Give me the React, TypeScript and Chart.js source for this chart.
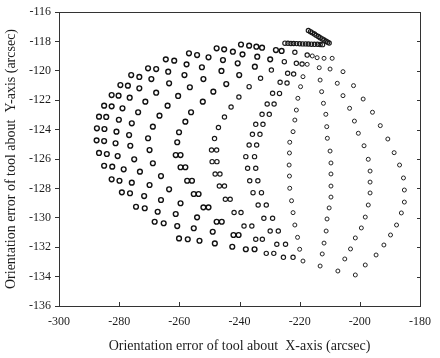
import React, { useEffect, useRef } from "react";
import { Chart, registerables } from "chart.js";

Chart.register(...registerables);

const xTickValues = [-300, -280, -260, -240, -220, -200, -180];
const yTickValues = [-136, -134, -132, -130, -128, -126, -124, -122, -120, -118, -116];
const xTitle = "Orientation error of tool about  X-axis (arcsec)";
const yTitle = "Orientation error of tool about  Y-axis (arcsec)";

const A_X = [-239.5, -247.6, -256.8, -264.5, -270.4, -276.0, -279.6, -282.5, -285.0, -286.7, -287.4, -287.5, -286.7, -285.0, -282.5, -279.1, -274.4, -268.2, -260.1];
const A_Y = [-118.21, -118.47, -118.81, -119.22, -119.83, -120.29, -120.97, -121.65, -122.37, -123.12, -123.91, -124.73, -125.59, -126.46, -127.38, -128.27, -129.25, -130.27, -131.4];

const A2_X = [-236.8, -245.1, -254.1, -261.7, -267.7, -273.3, -277.1, -280.2, -282.5, -284.3, -284.9, -285.0, -284.1, -282.3, -279.9, -276.4, -271.5, -265.2, -257.2];
const A2_Y = [-118.29, -118.54, -118.93, -119.31, -119.88, -120.42, -121.01, -121.69, -122.42, -123.14, -123.96, -124.78, -125.66, -126.52, -127.48, -128.33, -129.35, -130.37, -131.46];

const B_X = [-234.4, -242.2, -250.3, -257.6, -263.7, -269.3, -273.3, -276.5, -278.9, -280.1, -280.9, -281.2, -280.5, -278.5, -275.8, -271.7, -267.2, -260.7, -253.3];
const B_Y = [-118.36, -118.7, -119.08, -119.56, -120.06, -120.56, -121.19, -121.83, -122.55, -123.33, -124.14, -124.93, -125.8, -126.7, -127.61, -128.52, -129.59, -130.56, -131.56];

const C_X = [-232.5, -239.0, -245.5, -252.5, -258.3, -263.4, -267.7, -271.3, -273.7, -275.8, -276.7, -276.3, -275.0, -273.1, -269.9, -266.1, -261.2, -255.2, -248.2];
const C_Y = [-118.43, -118.88, -119.27, -119.76, -120.29, -120.85, -121.49, -122.1, -122.82, -123.57, -124.37, -125.1, -126.02, -126.86, -127.77, -128.79, -129.74, -130.71, -131.74];

const D_X = [-227.9, -234.1, -240.6, -246.0, -252.0, -256.5, -260.4, -263.9, -266.6, -268.8, -270.4, -269.9, -268.8, -266.1, -263.4, -259.6, -254.1, -248.9, -242.4];
const D_Y = [-118.59, -119.04, -119.49, -120.01, -120.56, -121.12, -121.71, -122.37, -123.05, -123.8, -124.59, -125.39, -126.29, -127.16, -128.06, -129.01, -129.97, -130.95, -131.97];

const E_X = [-226.0, -229.8, -234.9, -240.1, -244.4, -248.7, -252.2, -256.1, -258.0, -260.1, -260.7, -261.2, -259.6, -257.4, -255.2, -252.0, -247.6, -242.0, -237.9];
const E_Y = [-118.65, -119.22, -119.72, -120.29, -120.9, -121.42, -122.1, -122.82, -123.46, -124.18, -124.86, -125.73, -126.56, -127.48, -128.38, -129.29, -130.27, -131.17, -132.14];

const E2_X = [-259.6, -258.0, -255.8, -253.6, -250.3, -245.9, -240.3, -235.0];
const E2_Y = [-125.73, -126.56, -127.48, -128.38, -129.29, -130.27, -131.17, -132.14];

const F_X = [-221.6, -225.1, -229.4, -233.0, -236.8, -240.2, -242.8, -245.0, -247.0, -248.3, -249.3, -249.1, -248.1, -246.7, -244.7, -241.8, -238.5, -234.6, -231.1];
const F_Y = [-118.74, -119.38, -119.95, -120.51, -121.08, -121.78, -122.46, -123.14, -123.86, -124.61, -125.39, -126.18, -127.02, -127.84, -128.74, -129.64, -130.56, -131.46, -132.42];

const F2_X = [-247.6, -247.5, -246.5, -245.0, -243.1, -239.5, -235.9, -232.4, -228.6];
const F2_Y = [-125.39, -126.18, -127.02, -127.84, -128.74, -129.64, -130.56, -131.46, -132.42];

const G_X = [-217.5, -221.1, -224.0, -226.5, -229.0, -230.8, -232.5, -234.6, -235.7, -236.8, -237.9, -237.3, -236.6, -235.5, -233.8, -231.9, -229.8, -227.6, -225.4];
const G_Y = [-118.93, -119.49, -120.17, -120.78, -121.53, -122.26, -122.96, -123.64, -124.32, -125.05, -125.84, -126.63, -127.48, -128.29, -129.13, -130.03, -130.9, -131.8, -132.69];

const G2_X = [-219.2, -222.0, -224.2, -226.7, -228.5, -230.1, -232.2, -233.2, -234.3, -235.0, -234.6, -233.9, -232.7, -231.1, -229.0, -227.1, -224.7, -222.2];
const G2_Y = [-119.54, -120.22, -120.83, -121.54, -122.26, -122.96, -123.64, -124.32, -125.05, -125.84, -126.63, -127.48, -128.29, -129.13, -130.03, -130.9, -131.8, -132.69];

const H_X = [-215.8, -217.5, -218.9, -219.7, -220.6, -221.1, -221.6, -222.2, -223.3, -223.4, -223.5, -223.4, -223.3, -222.7, -222.2, -221.6, -220.7, -220.0, -218.9];
const H_Y = [-118.99, -119.56, -120.4, -121.08, -121.87, -122.67, -123.35, -124.14, -124.86, -125.59, -126.41, -127.16, -127.99, -128.84, -129.65, -130.49, -131.33, -132.14, -132.94];

const I_X = [-214.2, -213.5, -213.2, -212.7, -212.1, -211.3, -211.0, -210.8, -209.9, -209.6, -209.6, -209.6, -209.6, -210.2, -210.9, -211.2, -211.9, -212.5, -213.2];
const I_Y = [-119.11, -119.79, -120.63, -121.42, -122.21, -122.96, -123.8, -124.59, -125.46, -126.27, -127.02, -127.84, -128.59, -129.33, -130.08, -130.9, -131.72, -132.46, -133.28];

const J_X = [-211.9, -209.9, -207.5, -205.6, -203.4, -201.8, -200.5, -198.6, -197.2, -196.6, -196.6, -196.6, -197.2, -198.2, -199.5, -201.5, -203.1, -205.0, -207.3];
const J_Y = [-119.15, -119.88, -120.85, -121.69, -122.55, -123.42, -124.25, -125.1, -126.02, -126.82, -127.57, -128.31, -129.13, -129.95, -130.69, -131.37, -132.12, -132.8, -133.62];

const K_X = [-209.2, -205.6, -202.1, -198.9, -195.8, -193.2, -190.7, -188.6, -186.8, -185.5, -185.2, -185.2, -186.2, -187.8, -189.8, -192.0, -194.6, -198.2, -201.5];
const K_Y = [-119.15, -120.06, -121.01, -121.92, -122.82, -123.73, -124.64, -125.57, -126.41, -127.29, -128.11, -128.93, -129.67, -130.49, -131.17, -131.85, -132.53, -133.21, -133.89];

const ROW_X = [-224.9, -223.9, -222.9, -222.0, -221.0, -220.0, -219.0, -218.0, -217.1, -216.1, -215.1, -214.1, -213.2, -212.4];
const ROW_Y = [-118.12, -118.13, -118.14, -118.14, -118.15, -118.16, -118.17, -118.17, -118.18, -118.19, -118.2, -118.2, -118.21, -118.22];

const DIAG_X = [-217.1, -216.4, -215.8, -215.1, -214.5, -213.8, -213.2, -212.5, -211.9, -211.2, -210.7, -210.2];
const DIAG_Y = [-117.26, -117.34, -117.42, -117.5, -117.59, -117.67, -117.75, -117.83, -117.91, -117.99, -118.05, -118.11];

const heavy = [[A_X, A_Y], [A2_X, A2_Y], [B_X, B_Y], [C_X, C_Y], [D_X, D_Y], [E_X, E_Y], [E2_X, E2_Y]];
const medium = [[F_X, F_Y], [F2_X, F2_Y], [G_X, G_Y], [G2_X, G2_Y], [ROW_X, ROW_Y], [DIAG_X, DIAG_Y]];
const light = [[H_X, H_Y], [I_X, I_Y], [J_X, J_Y], [K_X, K_Y]];

const toPoints = (xs: number[], ys: number[]) => xs.map((x, i) => ({ x, y: ys[i] }));

const FONT = "'Liberation Serif', 'DejaVu Serif', serif";
const INK = "#1c1c1c";

const framePlugin = {
  id: "frame",
  afterDraw(chart: any) {
    const { ctx, chartArea, scales } = chart;
    const { left, right, top, bottom } = chartArea;
    ctx.save();
    ctx.strokeStyle = "#333";
    ctx.lineWidth = 1;
    ctx.strokeRect(Math.round(left) + 0.5, Math.round(top) + 0.5, Math.round(right - left), Math.round(bottom - top));
    ctx.beginPath();
    for (const v of xTickValues) {
      const px = Math.round(scales.x.getPixelForValue(v)) + 0.5;
      ctx.moveTo(px, bottom);
      ctx.lineTo(px, bottom - 4);
    }
    for (const v of yTickValues) {
      const py = Math.round(scales.y.getPixelForValue(v)) + 0.5;
      ctx.moveTo(right, py);
      ctx.lineTo(right - 3, py);
    }
    ctx.stroke();
    ctx.restore();
  },
};

export default function App() {
  const ref = useRef<HTMLCanvasElement | null>(null);
  useEffect(() => {
    if (!ref.current) return;
    const mk = (groups: any[], r: number, bw: number, color: string) =>
      groups.map(([xs, ys]) => ({
        data: toPoints(xs, ys),
        showLine: false,
        pointStyle: "circle",
        pointRadius: r,
        pointBorderWidth: bw,
        pointBorderColor: color,
        pointBackgroundColor: "rgba(255,255,255,0)",
      }));
    const chart = new Chart(ref.current, {
      type: "scatter",
      data: {
        datasets: [
          ...mk(heavy, 2.4, 1.4, "#111"),
          ...mk(medium, 2.15, 1.15, "#1a1a1a"),
          ...mk(light, 2.0, 1.0, "#222"),
        ],
      },
      options: {
        responsive: false,
        animation: false,
        layout: { padding: { left: 0, right: 12, top: 12, bottom: 0 } },
        plugins: { legend: { display: false }, tooltip: { enabled: false } },
        scales: {
          x: {
            type: "linear",
            min: -300,
            max: -180,
            afterFit: (s: any) => { s.height = 52; },
            afterBuildTicks: (s: any) => { s.ticks = xTickValues.map((v) => ({ value: v })); },
            border: { display: false },
            grid: { display: false, drawTicks: false },
            ticks: { color: INK, font: { family: FONT, size: 12 }, padding: 9, maxRotation: 0 },
            title: { display: true, text: xTitle, color: INK, font: { family: FONT, size: 14 }, padding: { top: 0, bottom: 3 } },
          },
          y: {
            type: "linear",
            min: -136,
            max: -116,
            afterFit: (s: any) => { s.width = 59; },
            afterBuildTicks: (s: any) => { s.ticks = yTickValues.map((v) => ({ value: v })); },
            border: { display: false },
            grid: { display: true, drawOnChartArea: false, drawTicks: true, tickLength: 4, color: "#333" },
            ticks: { color: INK, font: { family: FONT, size: 12 }, padding: 4 },
            title: { display: true, text: yTitle, color: INK, font: { family: FONT, size: 14 }, padding: { top: 3, bottom: 0 } },
          },
        },
      },
      plugins: [framePlugin],
    });
    return () => chart.destroy();
  }, []);
  return (
    <div style={{ position: "absolute", left: 0, top: 0, width: 440, height: 358, background: "#fff" }}>
      <canvas ref={ref} width={440} height={358} style={{ width: 440, height: 358 }} />
    </div>
  );
}
